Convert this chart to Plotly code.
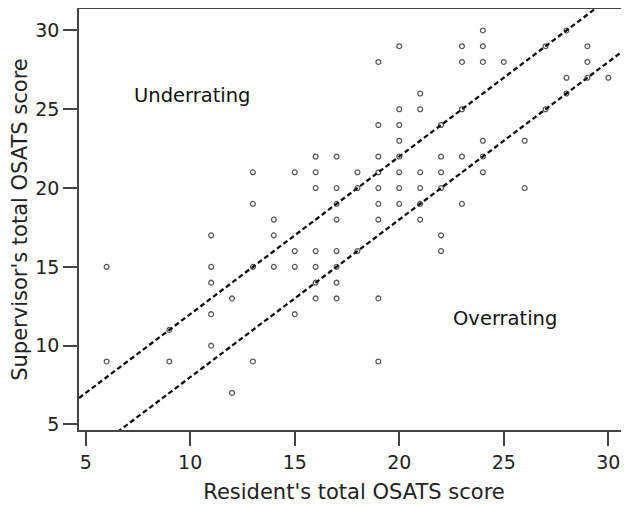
import plotly.graph_objects as go

# Resident (x) vs Supervisor (y) total OSATS scores
resident = [6, 6, 9, 9, 11, 11, 11, 11, 11, 12, 12, 13, 13, 13, 13,
            14, 14, 14, 15, 15, 15, 16, 16, 16, 16, 17, 17, 17, 17, 17,
            18, 19, 19, 19, 21, 22, 22,
            20, 19, 21, 20, 21, 19, 20, 20, 16, 17, 19, 20,
            15, 16, 18, 19, 20, 21, 22,
            16, 17, 18, 19, 20, 21, 17, 19, 20, 21,
            24, 28, 23, 24, 27, 29, 23, 24, 25, 29, 28, 29, 30, 28,
            23, 27, 22, 24, 26, 22, 23, 24, 24, 22, 26, 23]
supervisor = [15, 9, 11, 9, 17, 15, 14, 12, 10, 13, 7, 15, 9, 21, 19,
              18, 17, 15, 16, 15, 12, 16, 15, 14, 13, 18, 16, 15, 14, 13,
              16, 18, 13, 9, 18, 17, 16,
              29, 28, 26, 25, 25, 24, 24, 23, 22, 22, 22, 22,
              21, 21, 21, 21, 21, 21, 21,
              20, 20, 20, 20, 20, 20, 19, 19, 19, 19,
              30, 30, 29, 29, 29, 29, 28, 28, 28, 28, 27, 27, 27, 26,
              25, 25, 24, 23, 23, 22, 22, 22, 21, 20, 20, 19]

# Reference lines: supervisor = resident + offset
line_offsets = [2, -2]

x_ticks = [5, 10, 15, 20, 25, 30]
y_ticks = [5, 10, 15, 20, 25, 30]
x_range = [4.68, 30.99]
y_range = [4.65, 31.36]

region_labels = ["Underrating", "Overrating"]
region_pos = [(7.2, 25.85), (22.46, 11.74)]

FONT = "DejaVu Sans"

fig = go.Figure()
fig.add_trace(go.Scatter(
    x=resident, y=supervisor, mode="markers",
    marker=dict(symbol="circle-open", size=4.8, color="#5a5a5a",
                line=dict(width=1.3, color="#5a5a5a")),
    showlegend=False, hoverinfo="x+y"))

for off in line_offsets:
    xs = [x_range[0], x_range[1]]
    fig.add_trace(go.Scatter(
        x=xs, y=[v + off for v in xs], mode="lines",
        line=dict(color="#111111", width=2.3, dash="5px,3px"),
        showlegend=False, hoverinfo="skip"))

for txt, (ax, ay) in zip(region_labels, region_pos):
    fig.add_annotation(x=ax, y=ay, text=txt, showarrow=False,
                       xanchor="left", yanchor="middle",
                       font=dict(family=FONT, size=19.5, color="#111111"))

axis_common = dict(showgrid=False, zeroline=False, showline=True,
                   linecolor="#444444", linewidth=1.5,
                   ticks="outside", ticklen=14, tickwidth=1.5,
                   tickcolor="#444444",
                   tickfont=dict(family=FONT, size=19, color="#222222"))

fig.update_xaxes(range=x_range, tickvals=x_ticks, mirror=True,
                 title=dict(text="Resident's total OSATS score",
                            font=dict(family=FONT, size=21, color="#222222"),
                            standoff=13),
                 **axis_common)
fig.update_yaxes(range=y_range, tickvals=y_ticks, mirror=False,
                 title=dict(text="Supervisor's total OSATS score",
                            font=dict(family=FONT, size=21, color="#222222"),
                            standoff=2),
                 **axis_common)

# the page body adds an 8 px margin; the figure is sized to fill the rest
fig.update_layout(width=621, height=498,
                  margin=dict(l=71, r=0, t=1, b=76, autoexpand=False),
                  plot_bgcolor="white", paper_bgcolor="white",
                  font=dict(family=FONT))

fig.write_html("out.html")
